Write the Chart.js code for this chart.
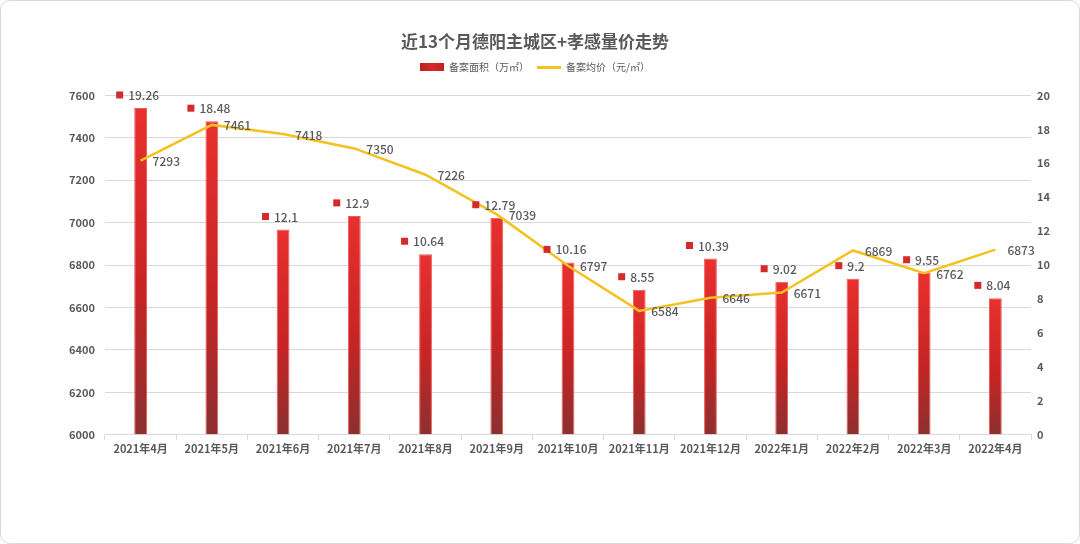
<!DOCTYPE html>
<html>
<head>
<meta charset="utf-8">
<script src="https://cdn.jsdelivr.net/npm/chart.js@4/dist/chart.umd.min.js"></script>
<style>
html,body{margin:0;padding:0;background:#fff;}
#wrap{position:relative;width:1080px;height:544px;overflow:hidden;}
#frame{position:absolute;left:0;top:0;width:1080px;height:544px;box-sizing:border-box;border:1px solid #d9d9d9;border-radius:10px;pointer-events:none;}
canvas{position:absolute;left:0;top:0;}
</style>
</head>
<body>
<div id="wrap">
<canvas id="c" width="1080" height="544"></canvas>
<div id="frame"></div>
</div>
<script>
const categories = ['2021年4月','2021年5月','2021年6月','2021年7月','2021年8月','2021年9月','2021年10月','2021年11月','2021年12月','2022年1月','2022年2月','2022年3月','2022年4月'];
const areaValues = [19.26, 18.48, 12.1, 12.9, 10.64, 12.79, 10.16, 8.55, 10.39, 9.02, 9.2, 9.55, 8.04];
const priceValues = [7293, 7461, 7418, 7350, 7226, 7039, 6797, 6584, 6646, 6671, 6869, 6762, 6873];
const titleText = '近13个月德阳主城区+孝感量价走势';
const areaLabel = '备案面积（万㎡）';
const priceLabel = '备案均价（元/㎡）';

const FONT = '"Noto Sans CJK SC", "Noto Sans", sans-serif';
const GREY = '#595959';

function legendSwatch(w, h, color) {
  const cv = document.createElement('canvas');
  cv.width = w; cv.height = h;
  const g = cv.getContext('2d');
  if (typeof color === 'string') { g.fillStyle = color; }
  else {
    const gr = g.createLinearGradient(0, 0, w, 0);
    color.forEach((c, i) => gr.addColorStop(i / (color.length - 1), c));
    g.fillStyle = gr;
  }
  g.fillRect(0, 0, w, h);
  return cv;
}
const barSwatch = legendSwatch(24, 8, ['#c01f1f', '#d82a2a', '#c41f1f']);
const lineSwatch = legendSwatch(24, 3, '#f4c21f');

const labelPlugin = {
  id: 'valueLabels',
  afterDatasetsDraw(chart) {
    const ctx = chart.ctx;
    ctx.save();
    ctx.font = '500 12px ' + FONT;
    ctx.fillStyle = GREY;
    ctx.textBaseline = 'middle';
    ctx.textAlign = 'left';
    const barMeta = chart.getDatasetMeta(0);
    barMeta.data.forEach((el, i) => {
      const txt = String(areaValues[i]);
      const tw = ctx.measureText(txt).width;
      const gw = 7 + 5 + tw;
      const sx = el.x - 3 - gw / 2;
      const y = el.y - 13;
      ctx.fillStyle = '#d42a2a';
      ctx.fillRect(sx, y - 3.5, 7, 7);
      ctx.fillStyle = GREY;
      ctx.fillText(txt, sx + 12, y + 0.5);
    });
    const lineMeta = chart.getDatasetMeta(1);
    lineMeta.data.forEach((el, i) => {
      ctx.fillText(String(priceValues[i]), el.x + 12, el.y + 1);
    });
    ctx.restore();
  }
};

const chart = new Chart(document.getElementById('c'), {
  data: {
    labels: categories,
    datasets: [
      {
        type: 'bar',
        label: areaLabel,
        data: areaValues,
        yAxisID: 'y1',
        order: 2,
        backgroundColor(context) {
          const ch = context.chart;
          if (!ch.chartArea || context.type !== 'data') return '#d82a2a';
          const sc = ch.scales.y1;
          const top = sc.getPixelForValue(context.raw);
          const bottom = sc.getPixelForValue(0);
          const g = ch.ctx.createLinearGradient(0, top, 0, bottom);
          g.addColorStop(0, '#e8302f');
          g.addColorStop(0.55, '#c82424');
          g.addColorStop(1, '#8b3030');
          return g;
        },
        borderColor: '#f25a5a',
        borderWidth: 1,
        barPercentage: 0.18,
        categoryPercentage: 1.0
      },
      {
        type: 'line',
        label: priceLabel,
        data: priceValues,
        yAxisID: 'y',
        order: 1,
        borderColor: '#f4c21f',
        backgroundColor: '#f4c21f',
        borderWidth: 2.5,
        pointRadius: 0,
        pointHoverRadius: 0,
        tension: 0,
        fill: false
      }
    ]
  },
  options: {
    responsive: false,
    animation: false,
    events: [],
    layout: { padding: { left: 20, right: 30, top: 0, bottom: 87 } },
    plugins: {
      title: {
        display: true,
        text: titleText,
        color: GREY,
        font: { family: FONT, size: 17, weight: 'bold' },
        padding: { top: 31, bottom: 3 }
      },
      subtitle: {
        display: true,
        text: ' ',
        weight: 500,
        font: { family: FONT, size: 10, lineHeight: 1.3 },
        padding: 0
      },
      legend: {
        display: true,
        position: 'top',
        labels: {
          usePointStyle: true,
          pointStyleWidth: 24,
          boxHeight: 8,
          padding: 8,
          color: GREY,
          font: { family: FONT, size: 10 },
          generateLabels() {
            return [
              { text: areaLabel, pointStyle: barSwatch, fillStyle: '#d82a2a', strokeStyle: '#d82a2a', lineWidth: 0, datasetIndex: 0, hidden: false, fontColor: GREY },
              { text: priceLabel, pointStyle: lineSwatch, fillStyle: '#f4c21f', strokeStyle: '#f4c21f', lineWidth: 0, datasetIndex: 1, hidden: false, fontColor: GREY }
            ];
          }
        }
      },
      tooltip: { enabled: false }
    },
    scales: {
      x: {
        grid: { display: true, drawOnChartArea: false, drawTicks: true, tickLength: 5, offset: true, color: '#d9d9d9' },
        border: { display: true, color: '#d9d9d9' },
        ticks: { color: GREY, font: { family: FONT, size: 11, weight: 'bold' }, padding: 2, maxRotation: 0, autoSkip: false }
      },
      y: {
        position: 'left',
        min: 6000, max: 7600,
        afterFit(scale) { scale.width = 85; },
        grid: { color: '#d9d9d9', drawTicks: false },
        border: { display: false },
        ticks: { stepSize: 200, color: GREY, font: { family: FONT, size: 11, weight: 'bold' }, padding: 10, callback: v => String(v) }
      },
      y1: {
        position: 'right',
        min: 0, max: 20,
        afterFit(scale) { scale.width = 19; },
        grid: { drawOnChartArea: false, drawTicks: false },
        border: { display: false },
        ticks: { stepSize: 2, color: GREY, font: { family: FONT, size: 11, weight: 'bold' }, padding: 6 }
      }
    }
  },
  plugins: [labelPlugin]
});
</script>
</body>
</html>
